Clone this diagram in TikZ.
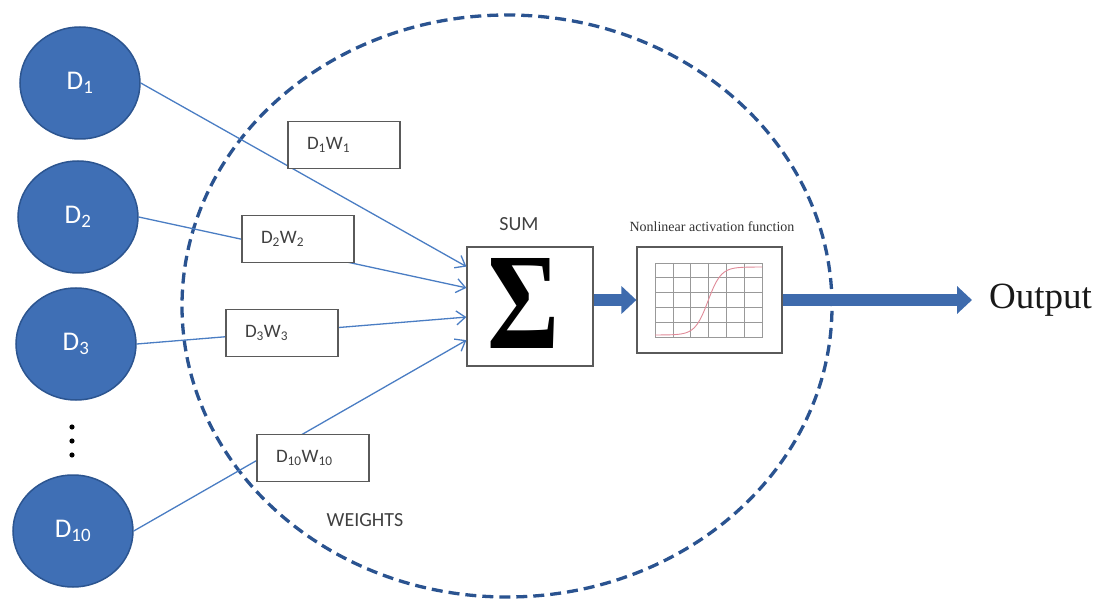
\documentclass[tikz,border=0pt]{standalone}
\usepackage{fontspec}
\newfontfamily\calibfont{Carlito}
\newfontfamily\serfont{Liberation Serif}
\usetikzlibrary{shapes.geometric,arrows.meta,calc}

\definecolor{nodeblue}{HTML}{3F6FB5}
\definecolor{nodeedge}{HTML}{2C5590}
\definecolor{linkblue}{HTML}{4A7DC3}
\definecolor{dashblue}{HTML}{2A5390}
\definecolor{boxgray}{HTML}{5A5A5A}
\definecolor{arrowblue}{HTML}{3E6BAD}
\definecolor{curvepink}{HTML}{E08A98}

\tikzset{
  datanode/.style={ellipse, fill=nodeblue, draw=nodeedge, line width=1.5pt,
    minimum width=120pt, minimum height=112pt, inner sep=0pt, text=white,
    font=\calibfont\fontsize{27}{32}\selectfont},
  wbox/.style={draw=boxgray, line width=1.2pt, fill=white, minimum height=47pt,
    text width=74pt, inner xsep=19pt, inner ysep=0pt, align=left,
    font=\calibfont\fontsize{19}{22}\selectfont, text=black!75},
  link/.style={draw=linkblue, line width=1.3pt,
    -{Straight Barb[length=9pt,width=14pt,line width=1.3pt]}},
  fatarrow/.style={draw=arrowblue, line width=12pt,
    -{Triangle[length=15pt,width=27pt]}},
  plainbox/.style={draw=boxgray, line width=1.2pt, fill=white, inner sep=0pt},
  caption/.style={font=\calibfont\fontsize{20}{24}\selectfont, text=black!75},
}

\begin{document}
\begin{tikzpicture}[x=1pt,y=-1pt]
\useasboundingbox (0,0) rectangle (1111,601);

% dashed boundary of the neuron
\node[ellipse, draw=dashblue, line width=3.3pt, dash pattern=on 11pt off 6pt,
  minimum width=650pt, minimum height=582pt, inner sep=0pt] (neuron) at (507,306) {};

% inputs
\node[datanode] (d1) at (80,83) {D\textsubscript{1}};
\node[datanode] (d2) at (78,217) {D\textsubscript{2}};
\node[datanode] (d3) at (76,344) {D\textsubscript{3}};
\node[datanode] (d10) at (73,531) {D\textsubscript{10}};

% vertical ellipsis between D3 and D10
\fill (72,427) circle (2.6pt);
\fill (72,441) circle (2.6pt);
\fill (72,455) circle (2.6pt);

% summation block
\node[plainbox, minimum width=126pt, minimum height=119pt] (sum) at (530,306.5) {};
\node[inner sep=0pt] (sigma) at (523.5,303)
  {\resizebox{72pt}{90pt}{\serfont\bfseries Σ}};
\node[caption] (sumlbl) at (519,224) {SUM};

\coordinate (in1) at ($(sum.north west)!0.168!(sum.south west)$);
\coordinate (in2) at ($(sum.north west)!0.345!(sum.south west)$);
\coordinate (in3) at ($(sum.north west)!0.588!(sum.south west)$);
\coordinate (in4) at ($(sum.north west)!0.780!(sum.south west)$);

% weighted connections
\draw[link] (d1.east) -- (in1);
\draw[link] (d2.east) -- (in2);
\draw[link] (d3.east) -- (in3);
\draw[link] (d10.east) -- (in4);

% weight labels
\node[wbox] (w1) at (344,145) {D\textsubscript{1}W\textsubscript{1}};
\node[wbox] (w2) at (298,239) {D\textsubscript{2}W\textsubscript{2}};
\node[wbox] (w3) at (282,333) {D\textsubscript{3}W\textsubscript{3}};
\node[wbox] (w4) at (313,458) {D\textsubscript{10}W\textsubscript{10}};
\node[caption] (weights) at (365,520) {WEIGHTS};

% activation block with sigmoid plot
\node[plainbox, minimum width=145pt, minimum height=106pt] (act) at (709.5,300) {};
\node[font=\serfont\fontsize{14}{16}\selectfont, text=black!80] (actlbl) at (712,227)
  {Nonlinear activation function};
\draw[gray!80, line width=0.6pt] (655,263) rectangle (762,337);
\foreach \i in {1,...,5} {
  \draw[gray!80, line width=0.6pt] ({655+\i*107/6},263) -- ({655+\i*107/6},337);
}
\foreach \j in {1,...,4} {
  \draw[gray!80, line width=0.6pt] (655,{263+\j*74/5}) -- (762,{263+\j*74/5});
}
\draw[curvepink, line width=0.9pt] plot[domain=655:762, samples=80]
  (\x, {335-68/(1+exp(-(\x-708)/6.5))});

% flow arrows
\draw[fatarrow] (sum.east |- act.west) -- (act.west);
\node[font=\serfont\fontsize{37}{40}\selectfont, anchor=west, inner xsep=17pt,
  text=black!90] (out) at (972,300) {Output};
\draw[fatarrow] (act.east) -- (out.west);

\end{tikzpicture}
\end{document}
